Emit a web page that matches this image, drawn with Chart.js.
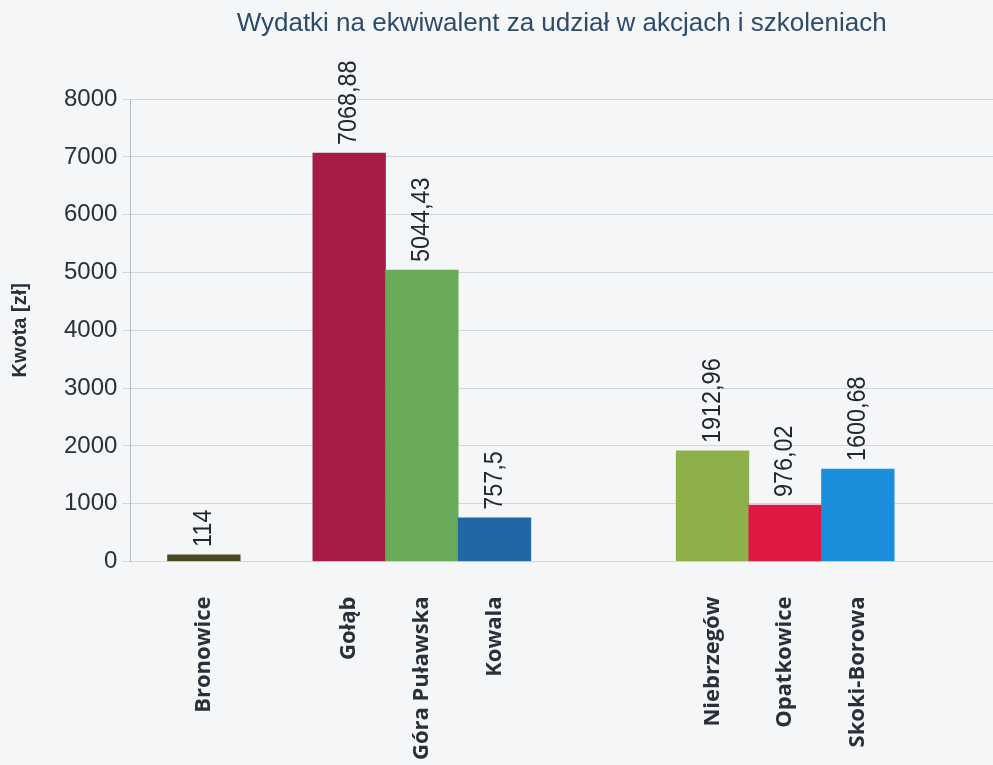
<!DOCTYPE html>
<html>
<head>
    <meta charset="utf-8">
    <title>Wydatki na ekwiwalent</title>
    <style>
        body { margin: 0; background: #f4f6f8; }
        #wrap { width: 993px; height: 765px; }
    </style>
</head>
<body>
    <div id="wrap"><canvas id="myChart"></canvas></div>
<script src="https://cdn.jsdelivr.net/npm/chart.js"></script>
<script>
    // slots along the x axis; empty names are the gaps between groups
    const places = ['Bronowice', '', 'Gołąb', 'Góra Puławska', 'Kowala', '', '', 'Niebrzegów', 'Opatkowice', 'Skoki-Borowa'];
    const amounts = [114, null, 7068.88, 5044.43, 757.5, null, null, 1912.96, 976.02, 1600.68];
    const barColors = ['#4a4a22', '#000000', '#a61c45', '#69ab58', '#1f68a3', '#000000', '#000000', '#8db04a', '#e01944', '#1a8edb'];
    const yTicks = [0, 1000, 2000, 3000, 4000, 5000, 6000, 7000, 8000];

    const points = places.map((p, i) => ({ x: i, y: amounts[i] }));

    // value labels above each bar, rotated like in the original
    const valueLabels = {
        id: 'valueLabels',
        afterDatasetsDraw(chart) {
            const ctx = chart.ctx;
            const meta = chart.getDatasetMeta(0);
            meta.data.forEach((bar, i) => {
                if (amounts[i] === null) return;
                const txt = String(amounts[i]).replace('.', ',');
                ctx.save();
                ctx.translate(bar.x, bar.y - 8);
                ctx.rotate(-Math.PI / 2);
                ctx.scale(0.9, 1);
                ctx.font = '26px "Liberation Sans", Arial, sans-serif';
                ctx.fillStyle = '#23262c';
                ctx.textAlign = 'left';
                ctx.textBaseline = 'middle';
                ctx.fillText(txt, 0, 0);
                ctx.restore();
            });
        }
    };

    const data = {
        datasets: [{
            label: 'Kwota',
            data: points,
            backgroundColor: barColors,
            borderWidth: 0,
            categoryPercentage: 1,
            barPercentage: 1
        }]
    };

    const config = {
        type: 'bar',
        data,
        options: {
            responsive: true,
            maintainAspectRatio: false,
            animation: false,
            layout: { padding: { left: 0, right: 0, top: 0, bottom: -22 } },
            plugins: {
                legend: { display: false },
                tooltip: { enabled: false },
                title: {
                    display: true,
                    fullSize: false,
                    text: 'Wydatki na ekwiwalent za udział w akcjach i szkoleniach',
                    color: '#2d4b6b',
                    font: { family: '"Liberation Sans", Arial, sans-serif', size: 26, weight: 'normal' },
                    padding: { top: 8, bottom: 60 }
                }
            },
            scales: {
                x: {
                    type: 'linear',
                    offset: false,
                    min: -1.011,
                    max: 10.86,
                    grid: { display: false },
                    border: { display: false },
                    ticks: {
                        stepSize: 1,
                        includeBounds: false,
                        autoSkip: false,
                        minRotation: 90,
                        maxRotation: 90,
                        padding: 27,
                        color: '#2a2f3a',
                        font: { family: '"Open Sans", sans-serif', size: 22, weight: 'bold' },
                        callback: (v) => places[v] || ''
                    }
                },
                y: {
                    min: 0,
                    max: 8000,
                    afterBuildTicks: (axis) => { axis.ticks = yTicks.map(v => ({ value: v })); },
                    grid: { color: '#d3d6da', tickLength: 8 },
                    border: { display: true, color: '#b5b9bf' },
                    ticks: {
                        padding: 5,
                        color: '#2b2f38',
                        font: { family: '"Liberation Sans", Arial, sans-serif', size: 24 },
                        callback: (v) => String(v)
                    },
                    title: {
                        display: true,
                        text: 'Kwota [zł]',
                        color: '#2b2f38',
                        font: { family: '"Liberation Sans", Arial, sans-serif', size: 20, weight: 'bold' },
                        padding: { top: 8, bottom: 27 }
                    }
                }
            }
        },
        plugins: [valueLabels]
    };

    let myChart = new Chart(document.getElementById('myChart'), config);
</script>
</body>
</html>
